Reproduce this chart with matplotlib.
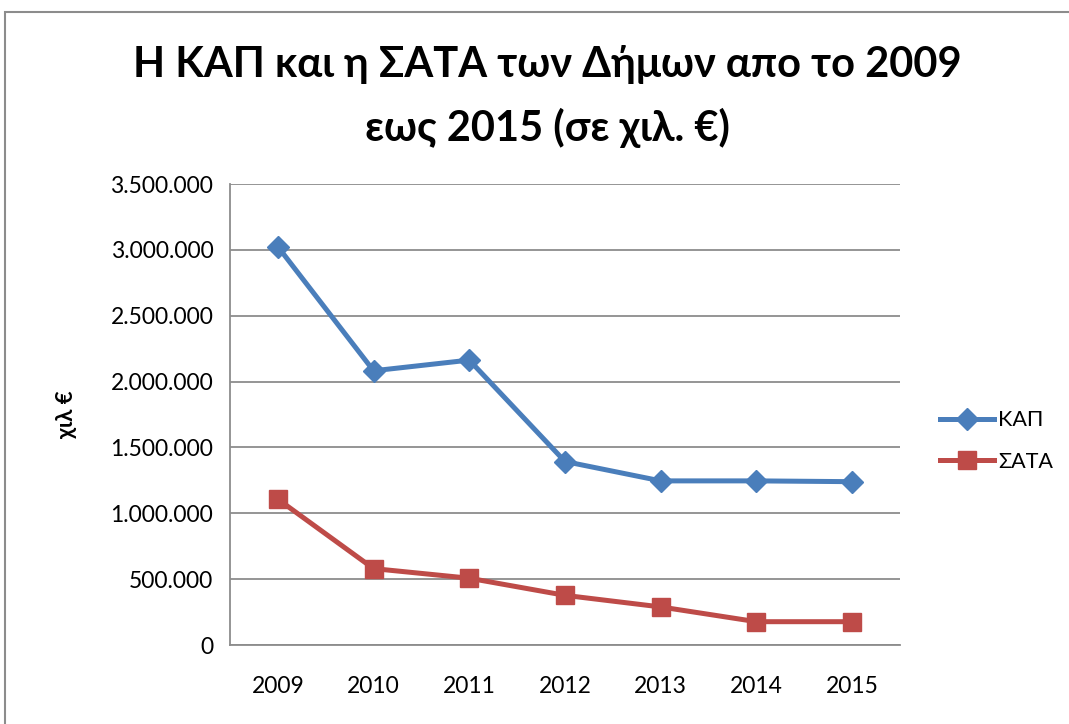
import matplotlib
matplotlib.use('Agg')
import matplotlib.pyplot as plt
from matplotlib.patches import Rectangle
from matplotlib.ticker import FuncFormatter

# données (en milliers d'euros)
years = ['2009', '2010', '2011', '2012', '2013', '2014', '2015']
kap = [3024000, 2082000, 2163000, 1393000, 1246000, 1246000, 1240000]
sata = [1107000, 580000, 507000, 377000, 289000, 177000, 177000]

plt.rcParams['font.family'] = ['Lato', 'DejaVu Sans']

fig = plt.figure(figsize=(10.69, 7.24), dpi=100)
ax = fig.add_axes([230/1069, 1-645/724, 670/1069, 461/724])

# cadre gris autour du graphique
fig.patches.append(Rectangle((5/1069, -0.1), 1.2, 1-12/724+0.1, transform=fig.transFigure,
                             fill=False, edgecolor='#8c8c8c', linewidth=1.5))

x = range(len(years))
ax.plot(x, kap, color='#4a7ebb', linewidth=3.6, marker='D', markersize=11, label='ΚΑΠ')
ax.plot(x, sata, color='#be4b48', linewidth=3.6, marker='s', markersize=13, label='ΣΑΤΑ')

ax.set_xlim(-0.5, 6.5)
ax.set_ylim(0, 3500000)
ax.set_yticks(range(0, 3500001, 500000))
ax.yaxis.set_major_formatter(FuncFormatter(lambda v, p: f'{int(v):,}'.replace(',', '.')))
ax.set_xticks(list(x))
ax.set_xticklabels(years)
ax.tick_params(length=0, labelsize=16.5)
ax.tick_params(axis='x', pad=22)
ax.tick_params(axis='y', pad=12)

ax.grid(axis='y', color='#8c8c8c', linewidth=1.3)
ax.set_axisbelow(True)
for s in ['top', 'right']:
    ax.spines[s].set_visible(False)
for s in ['left', 'bottom']:
    ax.spines[s].set_color('#8c8c8c')
    ax.spines[s].set_linewidth(1.3)

ax.set_ylabel('χιλ €', fontsize=16, fontweight='bold', labelpad=24)

fig.text(547/1069, 1-65/724, 'Η ΚΑΠ και η ΣΑΤΑ των Δήμων απο το 2009', ha='center', va='center',
         fontsize=30, fontweight='bold')
fig.text(547/1069, 1-128/724, 'εως 2015 (σε χιλ. €)', ha='center', va='center',
         fontsize=30, fontweight='bold')

fig.legend(loc='center left', bbox_to_anchor=(940/1069, 1-441/724), frameon=False,
           fontsize=15.5, handlelength=2.5, labelspacing=1.0, handletextpad=0.2,
           borderpad=0, borderaxespad=0)

fig.savefig('out.png', dpi=100)
